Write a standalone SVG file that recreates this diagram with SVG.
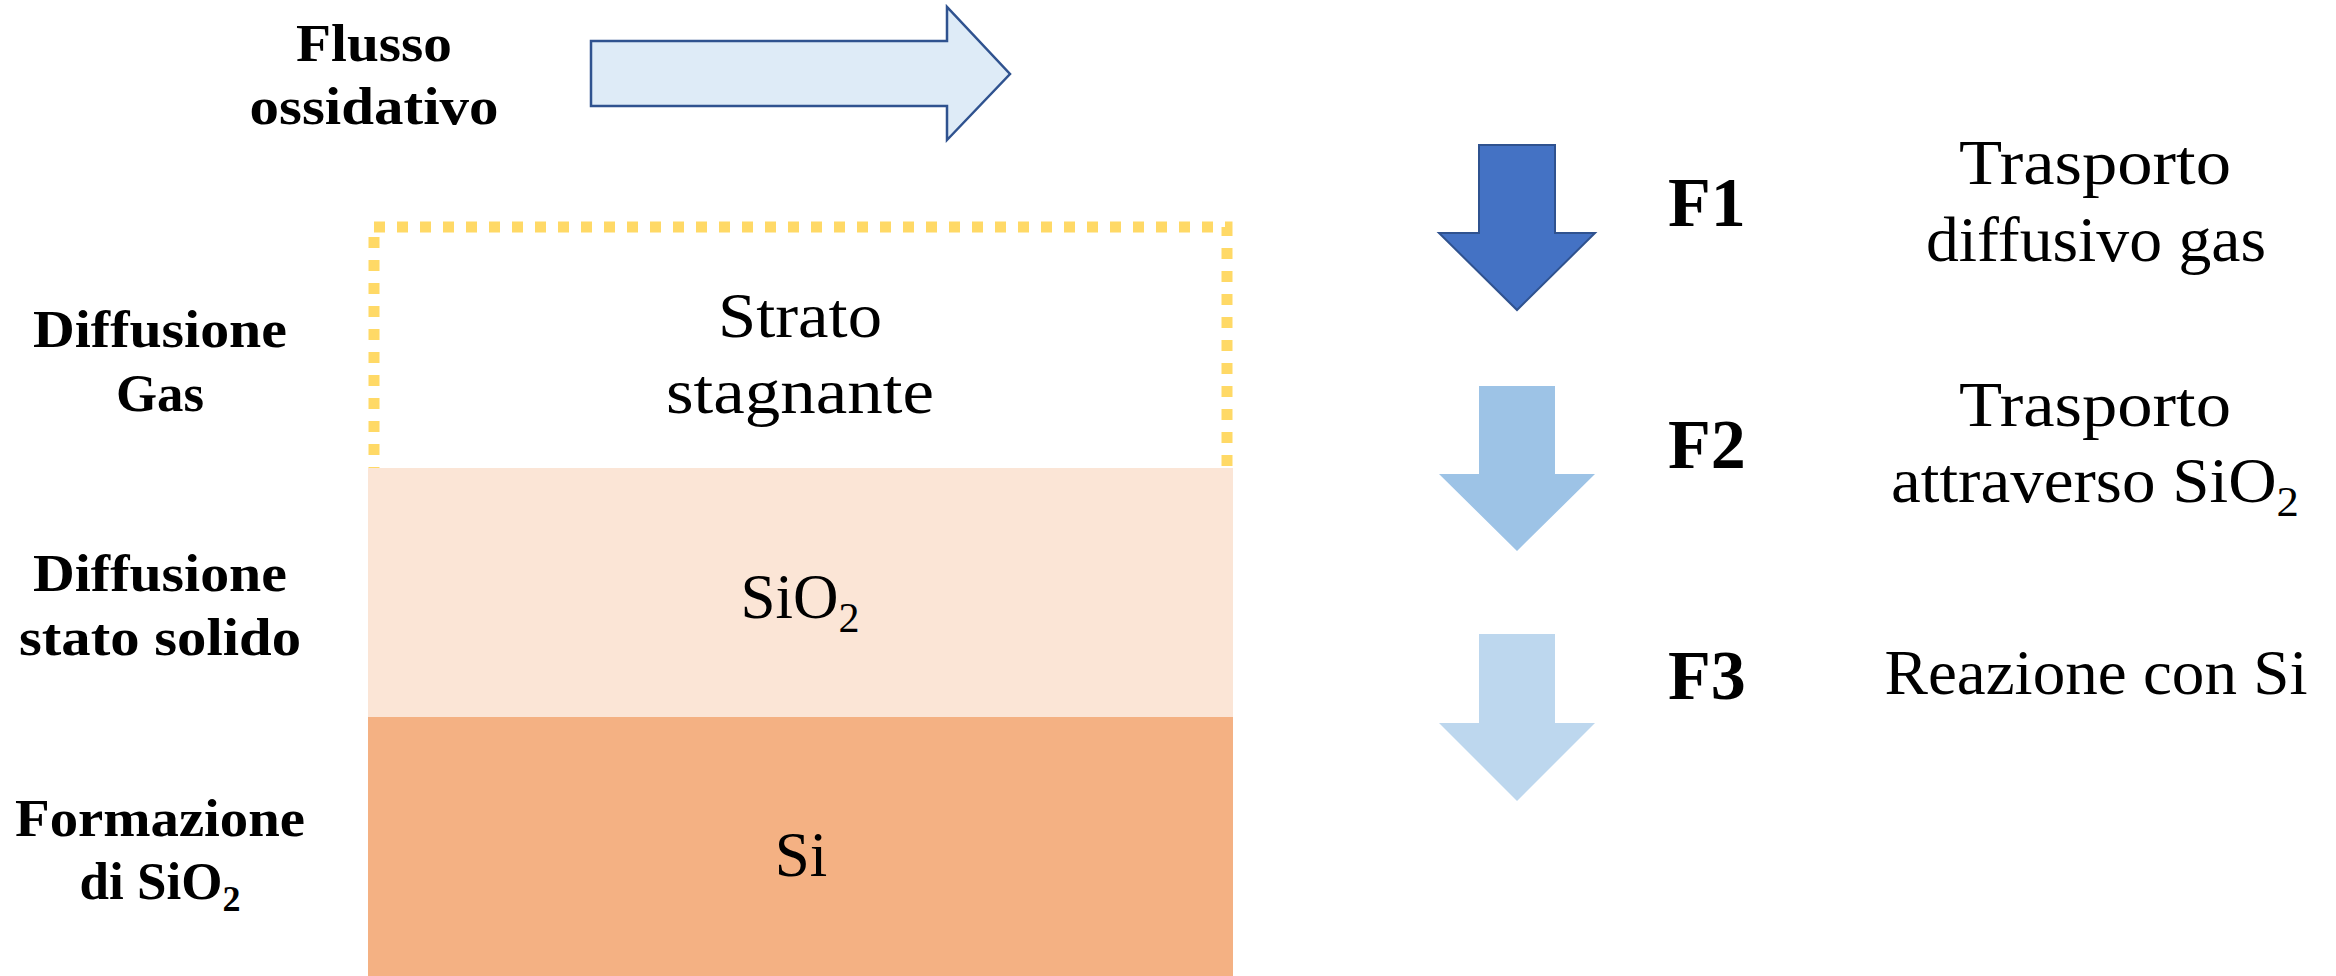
<svg xmlns="http://www.w3.org/2000/svg" width="2336" height="976" viewBox="0 0 2336 976">
<style>
.b{font-family:"Liberation Serif","Times New Roman",serif;font-weight:bold;fill:#000}
.r{font-family:"Liberation Serif","Times New Roman",serif;fill:#000}
.lbl{font-size:53px}
.lay{font-size:63px}
.f{font-size:70px}
</style>
<rect width="2336" height="976" fill="#fff"/>
<g id="layers">
  <g id="stagnante">
    <rect x="374" y="227" width="853" height="250" fill="none" stroke="#FFD966" stroke-width="11" stroke-dasharray="11 12"/>
    <text class="r lay" x="800" y="337" text-anchor="middle" textLength="164" lengthAdjust="spacingAndGlyphs">Strato</text>
    <text class="r lay" x="800" y="413" text-anchor="middle" textLength="268" lengthAdjust="spacingAndGlyphs">stagnante</text>
  </g>
  <g id="sio2">
    <rect x="368" y="468" width="865" height="249" fill="#FBE5D6"/>
    <text class="r lay" x="800" y="618" text-anchor="middle">SiO<tspan font-size="42" dy="14">2</tspan></text>
  </g>
  <g id="si">
    <rect x="368" y="717" width="865" height="259" fill="#F4B183"/>
    <text class="r lay" x="801" y="876" text-anchor="middle">Si</text>
  </g>
</g>
<g id="labels-left">
  <g id="flusso">
    <text class="b lbl" x="374" y="61" text-anchor="middle" textLength="156" lengthAdjust="spacingAndGlyphs">Flusso</text>
    <text class="b lbl" x="374" y="124" text-anchor="middle" textLength="249" lengthAdjust="spacingAndGlyphs">ossidativo</text>
  </g>
  <g id="diff-gas">
    <text class="b lbl" x="160" y="347" text-anchor="middle" textLength="254" lengthAdjust="spacingAndGlyphs">Diffusione</text>
    <text class="b lbl" x="160" y="411" text-anchor="middle" textLength="88" lengthAdjust="spacingAndGlyphs">Gas</text>
  </g>
  <g id="diff-solido">
    <text class="b lbl" x="160" y="591" text-anchor="middle" textLength="254" lengthAdjust="spacingAndGlyphs">Diffusione</text>
    <text class="b lbl" x="160" y="655" text-anchor="middle" textLength="282" lengthAdjust="spacingAndGlyphs">stato solido</text>
  </g>
  <g id="formazione">
    <text class="b lbl" x="160" y="836" text-anchor="middle" textLength="290" lengthAdjust="spacingAndGlyphs">Formazione</text>
    <text class="b lbl" x="160" y="899" text-anchor="middle">di SiO<tspan font-size="36" dy="12">2</tspan></text>
  </g>
</g>
<g id="connectors">
  <polygon id="flow-arrow" points="591,41 947,41 947,7 1010,74 947,140 947,106 591,106" fill="#DEEBF7" stroke="#2F528F" stroke-width="2.5"/>
  <polygon id="f1-arrow" points="1479,145 1555,145 1555,233 1595,233 1517,310 1439,233 1479,233" fill="#4472C4" stroke="#2F528F" stroke-width="2"/>
  <polygon id="f2-arrow" points="1479,386 1555,386 1555,474 1595,474 1517,551 1439,474 1479,474" fill="#9DC3E6"/>
  <polygon id="f3-arrow" points="1479,634 1555,634 1555,723 1595,723 1517,801 1439,723 1479,723" fill="#BDD7EE"/>
</g>
<g id="f1">
  <text class="b f" x="1668" y="226">F1</text>
  <text class="r lay" x="2095" y="184" text-anchor="middle" textLength="272" lengthAdjust="spacingAndGlyphs">Trasporto</text>
  <text class="r lay" x="2096" y="261" text-anchor="middle" textLength="340" lengthAdjust="spacingAndGlyphs">diffusivo gas</text>
</g>
<g id="f2">
  <text class="b f" x="1668" y="468">F2</text>
  <text class="r lay" x="2095" y="426" text-anchor="middle" textLength="272" lengthAdjust="spacingAndGlyphs">Trasporto</text>
  <text class="r lay" x="2095" y="502" text-anchor="middle" textLength="408" lengthAdjust="spacingAndGlyphs">attraverso SiO<tspan font-size="42" dy="14">2</tspan></text>
</g>
<g id="f3">
  <text class="b f" x="1668" y="699">F3</text>
  <text class="r lay" x="2096" y="694" text-anchor="middle" textLength="423" lengthAdjust="spacingAndGlyphs">Reazione con Si</text>
</g>
</svg>
